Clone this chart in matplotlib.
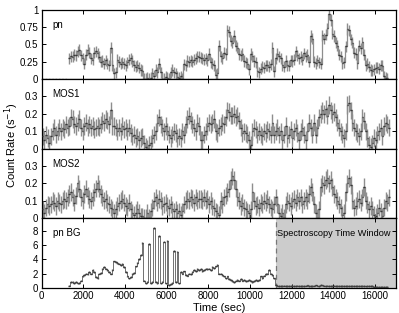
import matplotlib
matplotlib.use('Agg')
import matplotlib.pyplot as plt
import matplotlib.transforms as mtransforms
import numpy as np

plt.rcParams['font.family'] = ['Liberation Sans', 'DejaVu Sans']

# bin layout (sec)
bin_dt = 80
pn_t0 = 1280
mos_t0 = 0
bg_t0 = 1280
window_start = 11250

# pn light curve (cts/s)
pn_rate = [
    0.30, 0.33, 0.32, 0.35, 0.34, 0.40, 0.42, 0.34, 0.30, 0.22,
    0.35, 0.42, 0.38, 0.30, 0.28, 0.38, 0.40, 0.37, 0.32, 0.25,
    0.26, 0.22, 0.27, 0.22, 0.20, 0.45, 0.20, 0.08, 0.10, 0.28,
    0.25, 0.22, 0.24, 0.22, 0.20, 0.24, 0.28, 0.30, 0.26, 0.20,
    0.18, 0.20, 0.16, 0.13, 0.12, 0.00, 0.00, 0.02, 0.00, 0.02,
    0.08, 0.05, 0.13, 0.10, 0.22, 0.10, 0.00, 0.00, 0.03, 0.02,
    0.00, 0.10, 0.13, 0.10, 0.08, 0.03, 0.02, 0.04, 0.00, 0.21,
    0.20, 0.26, 0.25, 0.27, 0.25, 0.28, 0.30, 0.33, 0.32,
    0.31, 0.30, 0.28, 0.30, 0.27, 0.36, 0.24, 0.22, 0.20, 0.06,
    0.08, 0.48, 0.33, 0.30, 0.38, 0.36, 0.70, 0.68, 0.55, 0.52,
    0.62, 0.48, 0.45, 0.36, 0.34, 0.36, 0.26, 0.24, 0.22, 0.14,
    0.36, 0.33, 0.26, 0.24, 0.11, 0.10, 0.15, 0.18, 0.16, 0.20,
    0.20, 0.18, 0.21, 0.45, 0.11, 0.30, 0.36, 0.33,
    0.30, 0.20, 0.18, 0.26, 0.20, 0.19, 0.27, 0.26, 0.28, 0.40,
    0.34, 0.30, 0.32, 0.28, 0.37, 0.33, 0.35, 0.25, 0.62, 0.58,
    0.25, 0.23, 0.27, 0.24, 0.22, 0.63, 0.58, 0.64, 0.73, 0.93,
    0.85, 0.65, 0.62, 0.52, 0.48, 0.35, 0.33, 0.23, 0.24, 0.47,
    0.72, 0.70, 0.57, 0.52, 0.38, 0.36, 0.23, 0.48, 0.44, 0.53,
    0.35, 0.20, 0.22, 0.18, 0.13, 0.12, 0.14, 0.16, 0.17, 0.15,
    0.20, 0.19, 0.04, 0.02, 0.01,
]
pn_err = 0.08

mos1_rate = [
    0.07, 0.05, 0.08, 0.06, 0.03, 0.07, 0.10, 0.12, 0.08, 0.10,
    0.12, 0.10, 0.12, 0.11, 0.14, 0.12, 0.13, 0.18, 0.17, 0.14,
    0.13, 0.15, 0.17, 0.12, 0.10, 0.13, 0.15, 0.12, 0.14, 0.12,
    0.13, 0.11, 0.12, 0.13, 0.12, 0.14, 0.16, 0.15, 0.17, 0.16,
    0.14, 0.22, 0.13, 0.13, 0.12, 0.10, 0.12, 0.10, 0.13, 0.11,
    0.12, 0.10, 0.12, 0.09, 0.07, 0.08, 0.06, 0.07, 0.05, 0.06,
    0.07, 0.03, 0.01, 0.00, 0.02, 0.03, 0.06, 0.08, 0.10, 0.15,
    0.18, 0.14, 0.12, 0.10, 0.13, 0.10, 0.08, 0.06, 0.08, 0.10,
    0.09, 0.06, 0.07, 0.06, 0.10, 0.08, 0.14, 0.17, 0.19, 0.16,
    0.14, 0.12, 0.10, 0.15, 0.13,
    0.05, 0.05, 0.08, 0.10, 0.13, 0.15, 0.14, 0.15, 0.17, 0.10,
    0.09, 0.12, 0.13, 0.15, 0.14, 0.18, 0.22, 0.21, 0.19, 0.19,
    0.20, 0.18, 0.19, 0.16, 0.12, 0.09, 0.10, 0.09, 0.08, 0.05,
    0.02, 0.10, 0.12, 0.11, 0.08, 0.10, 0.08, 0.07, 0.10, 0.09,
    0.11, 0.10, 0.08, 0.15, 0.08, 0.10, 0.12, 0.08, 0.10, 0.05,
    0.08, 0.13, 0.06, 0.08, 0.11, 0.06, 0.10, 0.12, 0.09, 0.05,
    0.10, 0.12, 0.08, 0.05, 0.10, 0.15, 0.12, 0.08, 0.15, 0.08,
    0.12, 0.18, 0.20, 0.22, 0.20, 0.23, 0.19, 0.25, 0.22, 0.20,
    0.21, 0.18, 0.15, 0.12, 0.10, 0.08, 0.06, 0.10, 0.25, 0.26,
    0.22, 0.15, 0.12, 0.10, 0.09, 0.07, 0.10, 0.18, 0.16, 0.10,
    0.06, 0.02, 0.01, 0.03, 0.06, 0.05, 0.08, 0.10, 0.12, 0.07,
    0.13, 0.15, 0.14, 0.12,
]
mos2_rate = [
    0.05, 0.03, 0.06, 0.08, 0.07, 0.08, 0.10, 0.09, 0.07, 0.10,
    0.09, 0.08, 0.10, 0.11, 0.10, 0.12, 0.14, 0.15, 0.12, 0.09,
    0.13, 0.20, 0.17, 0.12, 0.10, 0.14, 0.17, 0.13, 0.11, 0.10,
    0.12, 0.15, 0.17, 0.20, 0.17, 0.14, 0.12, 0.10, 0.11, 0.09,
    0.08, 0.06, 0.05, 0.03, 0.05, 0.07, 0.09, 0.10, 0.11, 0.09,
    0.07, 0.06, 0.09, 0.05, 0.03, 0.02, 0.03, 0.05, 0.03, 0.01,
    0.01, 0.00, 0.00, 0.03, 0.00, 0.04, 0.06, 0.10, 0.12, 0.09,
    0.11, 0.10, 0.07, 0.08, 0.09, 0.07, 0.06, 0.08, 0.05, 0.04,
    0.05, 0.03, 0.04, 0.02, 0.04, 0.08, 0.10, 0.11, 0.10, 0.12,
    0.11, 0.09, 0.12, 0.10, 0.11,
    0.11, 0.10, 0.12, 0.10, 0.11, 0.08, 0.10, 0.07, 0.06, 0.04,
    0.03, 0.02, 0.10, 0.08, 0.12, 0.13, 0.15, 0.17, 0.22, 0.24,
    0.22, 0.17, 0.12, 0.10, 0.07, 0.09, 0.06, 0.05, 0.04, 0.03,
    0.05, 0.15, 0.10, 0.07, 0.08, 0.06, 0.09, 0.08, 0.10, 0.09,
    0.11, 0.08, 0.06, 0.05, 0.08, 0.12, 0.08, 0.03, 0.01, 0.03,
    0.00, 0.08, 0.10, 0.09, 0.07, 0.10, 0.11, 0.09, 0.12, 0.10,
    0.12, 0.08, 0.10, 0.12, 0.10, 0.14, 0.18, 0.15, 0.08, 0.03,
    0.00, 0.05, 0.18, 0.20, 0.19, 0.22, 0.23, 0.20, 0.22, 0.18,
    0.14, 0.12, 0.10, 0.08, 0.06, 0.02, 0.03, 0.15, 0.20, 0.23,
    0.19, 0.10, 0.06, 0.07, 0.10, 0.11, 0.09, 0.12, 0.18, 0.10,
    0.08, 0.05, 0.07, 0.05, 0.02, 0.01, 0.03, 0.06, 0.04, 0.01,
    0.06, 0.10, 0.09, 0.12,
]
mos_err = 0.05

# pn background (high-energy) light curve
bg_rate = [
    0.3, 0.8, 0.8, 0.7, 0.8, 0.6, 0.7, 1.0, 1.6, 1.8,
    2.0, 1.9, 2.2, 2.0, 2.5, 2.2, 1.5, 1.4, 2.0, 2.1,
    2.6, 2.9, 2.7, 2.5, 2.2, 2.0, 2.5, 3.7, 3.6, 3.5,
    3.4, 3.2, 3.3, 2.9, 2.2, 1.6, 1.3, 1.5, 1.9, 2.1,
    3.0, 3.5, 4.0, 4.6, 6.3, 1.0, 0.6, 0.8, 6.2, 0.7,
    0.8, 8.4, 0.8, 0.6, 7.3, 0.6, 0.8, 6.5, 0.6, 6.6,
    0.4, 0.5, 0.7, 5.2, 0.8, 5.1, 0.6, 2.2, 2.0, 2.3,
    1.8, 1.7, 2.0, 1.9, 2.2, 2.5, 2.4, 2.6, 2.5, 2.6,
    2.4, 2.5, 2.7, 2.6, 2.7, 2.5, 2.9, 2.8, 3.0, 3.2,
    2.0, 2.0, 1.8, 1.6, 1.3, 1.6, 1.2, 1.1, 0.9, 0.85,
    1.0, 1.1, 1.0, 1.2, 1.0, 1.1, 0.95, 1.0, 1.1, 0.95,
    0.85, 0.9, 1.1, 1.0, 1.1, 1.6, 1.4, 1.7, 1.9, 2.0,
    2.5, 2.0, 1.8, 1.3, 0.4,
    0.30, 0.28, 0.25, 0.27, 0.30, 0.26, 0.24, 0.25, 0.28, 0.30,
    0.27, 0.25, 0.30, 0.28, 0.26, 0.24, 0.27, 0.30, 0.32, 0.28,
    0.26, 0.28, 0.30, 0.33, 0.30, 0.28, 0.35, 0.32, 0.30, 0.28,
    0.30, 0.27, 0.25, 0.28, 0.30, 0.26, 0.24, 0.27, 0.25, 0.22,
    0.24, 0.26, 0.23, 0.22, 0.25, 0.23, 0.20, 0.22, 0.24, 0.21,
    0.20, 0.22, 0.20, 0.18, 0.20, 0.22, 0.25, 0.20, 0.17, 0.15,
    0.12, 0.10, 0.10, 0.08, 0.10, 0.10, 0.08,
]
bg_err = 0.12

x_ticks = [0, 2000, 4000, 6000, 8000, 10000, 12000, 14000, 16000]
pn_yticks = [0, 0.25, 0.5, 0.75, 1]
pn_ylabels = ['0', '0.25', '0.5', '0.75', '1']
mos_yticks = [0, 0.1, 0.2, 0.3]
mos_ylabels = ['0', '0.1', '0.2', '0.3']
bg_yticks = [0, 2, 4, 6, 8]
bg_ylabels = ['0', '2', '4', '6', '8']


def times(t0, rate):
    return t0 + bin_dt * (np.arange(len(rate)) + 0.5)


def style_axis(ax, yticks, ylabels, ylim, label):
    ax.set_xlim(0, 17000)
    ax.set_ylim(*ylim)
    ax.set_xticks(x_ticks)
    ax.set_yticks(yticks)
    ax.set_yticklabels(ylabels)
    ax.tick_params(direction='in', top=True, right=True, length=3,
                   width=0.7, labelsize=7, pad=2.5)
    for s in ax.spines.values():
        s.set_linewidth(0.9)
    ax.text(0.031, 0.78, label, transform=ax.transAxes, fontsize=7,
            ha='left', va='center')


def draw_lc(ax, t, r, err, step_col='#8e8e8e', err_col='#8e8e8e', step_lw=0.9):
    # connecting histogram and error bars in grey, bin bars dark
    ax.errorbar(t, r, yerr=err, fmt='none', ecolor=err_col,
                elinewidth=1.0, capsize=0, zorder=2)
    ax.step(t, r, where='mid', color=step_col, lw=step_lw, zorder=2)
    ax.errorbar(t, r, xerr=bin_dt / 2, fmt='none', ecolor='#3a3a3a',
                elinewidth=1.0, capsize=0, zorder=3)


fig = plt.figure(figsize=(3.99, 3.13), dpi=100)
left, width = 0.1045, 0.8872
bottom, top = 0.0808, 0.9696
h = (top - bottom) / 4

ax_pn = fig.add_axes([left, bottom + 3 * h, width, h])
ax_m1 = fig.add_axes([left, bottom + 2 * h, width, h])
ax_m2 = fig.add_axes([left, bottom + h, width, h])
ax_bg = fig.add_axes([left, bottom, width, h])

draw_lc(ax_pn, times(pn_t0, pn_rate), pn_rate, pn_err)
ax_pn.plot([0, pn_t0], [0.005, 0.005], ls=':', color='#555555', lw=0.9)
style_axis(ax_pn, pn_yticks, pn_ylabels, (0, 1), 'pn')

draw_lc(ax_m1, times(mos_t0, mos1_rate), mos1_rate, mos_err)
style_axis(ax_m1, mos_yticks, mos_ylabels, (0, 0.4), 'MOS1')

draw_lc(ax_m2, times(mos_t0, mos2_rate), mos2_rate, mos_err)
style_axis(ax_m2, mos_yticks, mos_ylabels, (0, 0.4), 'MOS2')

ax_bg.axvspan(window_start, 17000, color='#cccccc', lw=0, zorder=0)
ax_bg.axvline(window_start, color='#777777', ls=(0, (4, 3)), lw=0.9, zorder=1)
draw_lc(ax_bg, times(bg_t0, bg_rate), bg_rate, bg_err,
        step_col='#5a5a5a', err_col='#6a6a6a', step_lw=0.6)
style_axis(ax_bg, bg_yticks, bg_ylabels, (0, 9.8), 'pn BG')
trans = mtransforms.blended_transform_factory(ax_bg.transData, ax_bg.transAxes)
ax_bg.text(window_start + 40, 0.78, 'Spectroscopy Time Window', transform=trans,
           fontsize=6.6, ha='left', va='center')

for ax in (ax_pn, ax_m1, ax_m2):
    ax.tick_params(labelbottom=False)

ax_bg.set_xlabel('Time (sec)', fontsize=8, labelpad=1)
fig.text(0.03, 0.535, 'Count Rate (s$^{-1}$)', rotation=90, fontsize=8,
         ha='center', va='center')

fig.savefig('out.png', dpi=100)
